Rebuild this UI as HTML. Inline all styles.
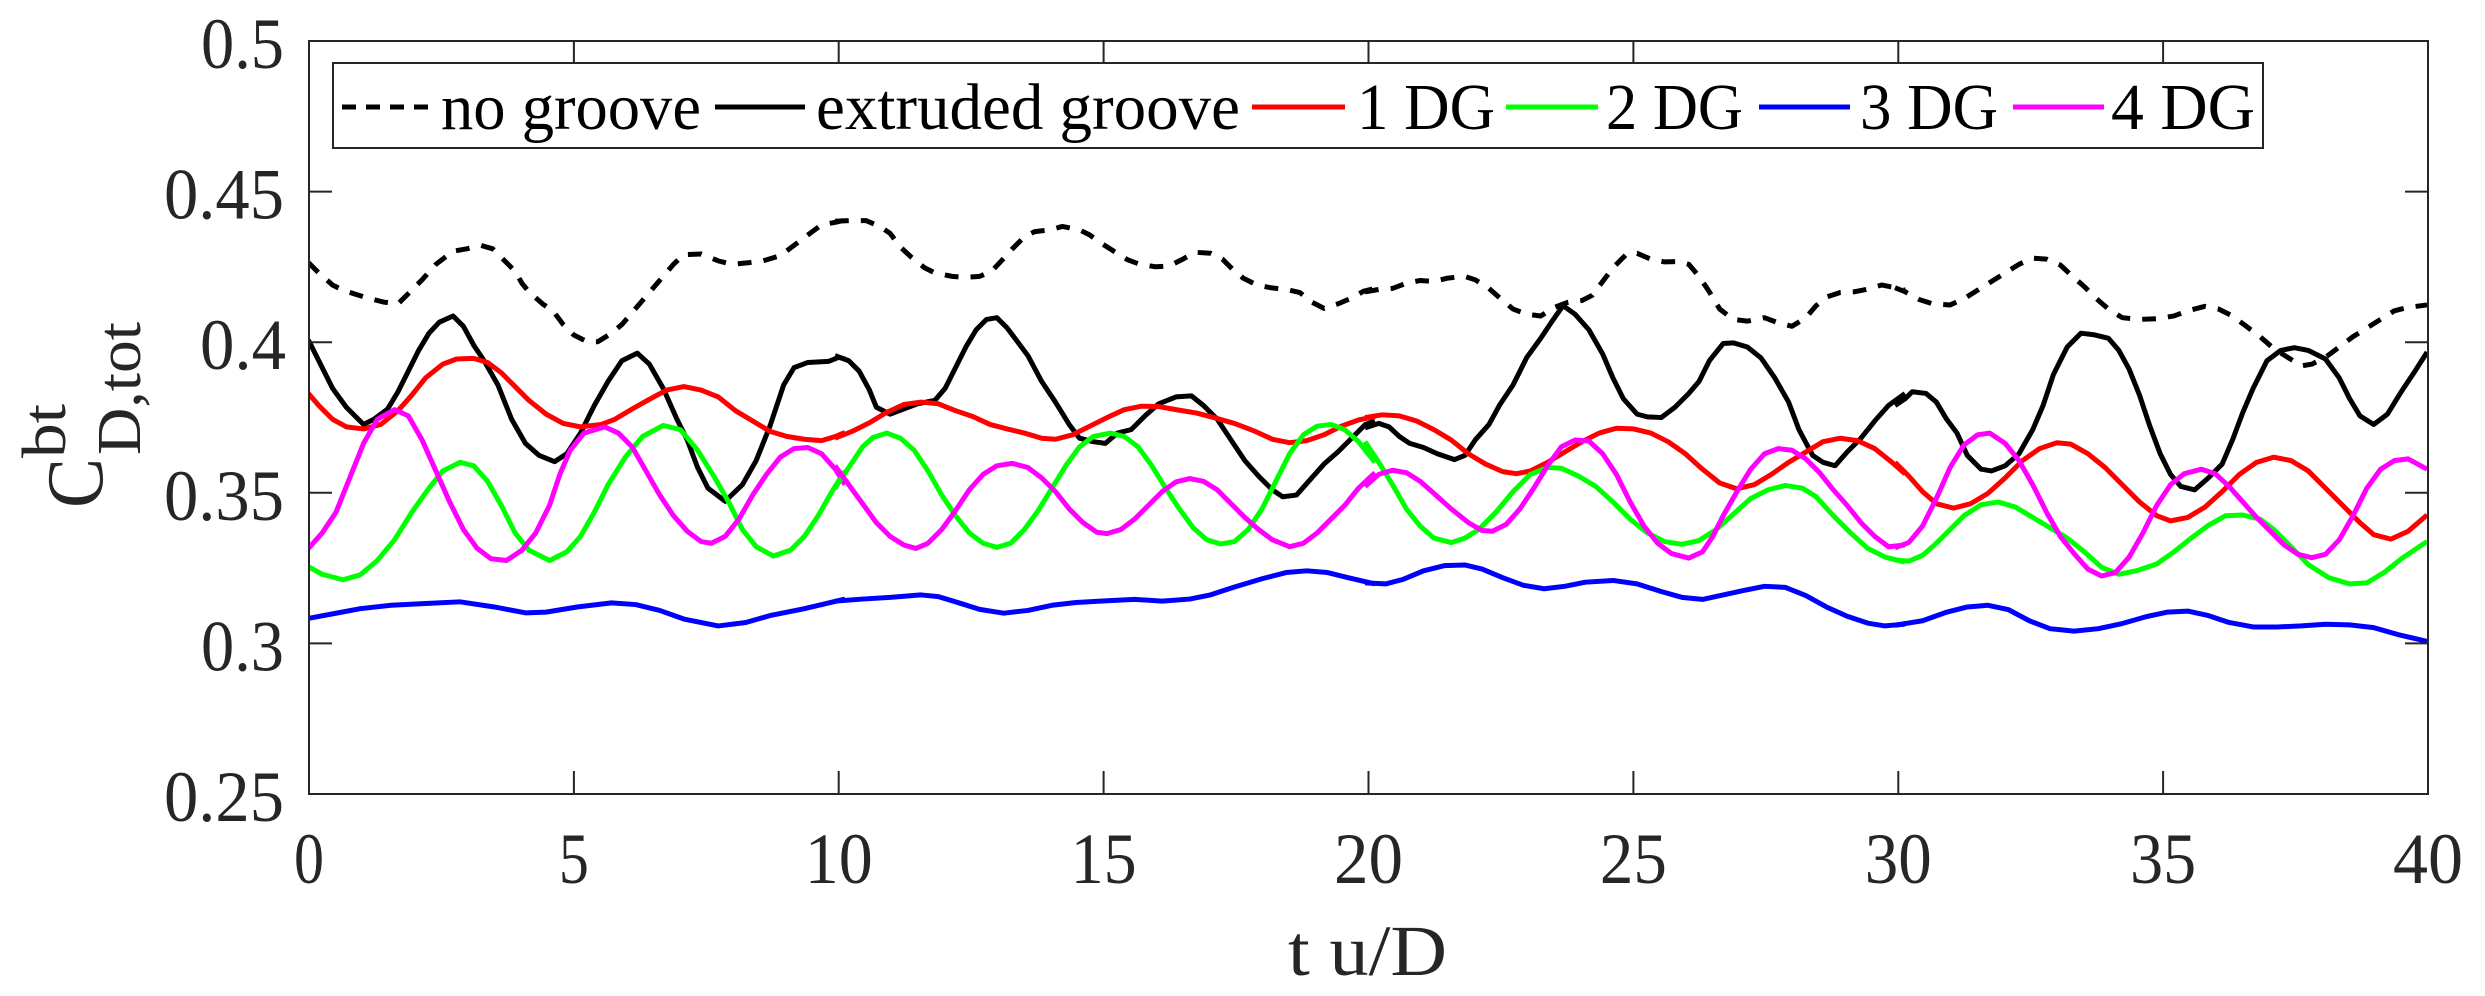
<!DOCTYPE html>
<html><head><meta charset="utf-8"><style>
html,body{margin:0;padding:0;background:#fff;}
svg{display:block;}
svg text{font-family:"Liberation Serif","Times New Roman",Times,serif;fill:#262626;}
</style></head><body>
<svg width="2485" height="996" viewBox="0 0 2485 996" xmlns="http://www.w3.org/2000/svg" font-family="Liberation Serif, Times New Roman, Times, serif">
<defs><clipPath id="pc"><rect x="309" y="41" width="2119" height="753"/></clipPath></defs>
<rect width="2485" height="996" fill="#fff"/>
<g clip-path="url(#pc)" fill="none" stroke-linejoin="round" stroke-linecap="butt">
<g transform="translate(305,130) scale(0.34439)" stroke-width="14.5">
<polyline stroke="#000" stroke-dasharray="40 35" points="10,385 40,415 80,450 110,465 150,478 190,490 230,500 270,505 305,470 340,435 380,390 430,352 470,345 510,335 545,345 580,380 610,410 630,445 650,470 690,505 720,525 750,565 780,595 820,615 850,615 890,590 920,565 950,530 980,495 1010,460 1040,425 1070,390 1100,362 1150,360 1200,380 1240,390 1290,385 1330,380 1380,365 1420,335 1460,305 1500,275 1540,268 1568,262"/>
<polyline stroke="#000" points="10,610 40,670 80,750 120,805 170,855 200,840 240,810 270,760 300,700 330,640 360,590 390,558 430,540 460,570 490,625 520,670 560,740 600,840 640,910 680,945 725,963 760,940 800,880 840,800 880,730 920,670 965,648 1000,680 1040,750 1080,840 1110,900 1140,980 1170,1040 1220,1078 1270,1030 1310,960 1350,860 1390,740 1420,690 1460,675 1520,672 1550,660 1568,665"/>
<polyline stroke="#ff0000" points="10,765 40,800 80,840 120,862 170,868 220,855 270,815 310,770 350,720 400,680 440,665 490,663 530,675 570,705 610,745 650,785 700,825 750,852 800,862 860,855 900,840 950,810 1000,782 1050,755 1100,745 1150,755 1200,775 1250,815 1300,845 1350,875 1400,890 1450,898 1500,902 1540,890 1568,878"/>
<polyline stroke="#00ff00" points="10,1268 50,1290 110,1306 160,1292 210,1250 260,1190 310,1110 360,1040 400,990 450,965 490,975 530,1020 570,1090 610,1170 650,1220 710,1250 760,1225 800,1180 840,1110 880,1030 930,950 980,890 1040,858 1090,870 1140,930 1190,1010 1230,1080 1270,1160 1310,1210 1360,1237 1410,1220 1450,1180 1490,1120 1530,1050 1568,990"/>
<polyline stroke="#0000ff" points="10,1418 80,1405 160,1390 250,1380 350,1375 450,1370 550,1385 640,1402 700,1400 790,1385 890,1373 960,1378 1030,1395 1100,1420 1200,1440 1280,1430 1350,1410 1450,1390 1568,1362"/>
<polyline stroke="#ff00ff" points="10,1215 50,1170 90,1110 130,1010 170,910 210,840 260,812 300,830 340,900 380,990 420,1080 460,1160 500,1215 540,1245 585,1250 630,1220 670,1170 710,1090 740,1000 770,930 810,880 870,862 910,880 950,920 990,990 1030,1060 1070,1120 1110,1165 1150,1195 1180,1200 1220,1180 1260,1130 1300,1060 1340,1000 1380,950 1420,925 1460,922 1500,940 1540,985 1568,1030"/>
</g>
<g transform="translate(835,130) scale(0.34439)" stroke-width="14.5">
<polyline stroke="#000" stroke-dasharray="40 35" points="0,265 40,263 90,263 130,280 160,300 190,340 220,368 260,400 290,415 340,425 380,428 420,425 455,410 485,378 515,345 550,310 580,295 625,290 660,280 710,290 740,305 775,330 810,352 850,377 885,390 930,397 970,395 1010,375 1045,355 1090,358 1125,375 1155,405 1185,430 1225,450 1265,458 1310,463 1350,472 1385,500 1420,518 1460,505 1500,488 1535,468 1568,460"/>
<polyline stroke="#000" points="0,655 40,670 70,700 100,755 120,805 160,825 200,810 240,795 290,785 320,750 350,690 380,630 410,580 440,550 470,545 500,575 530,615 560,655 600,730 640,790 680,855 710,895 750,905 785,910 820,880 860,870 900,830 940,795 990,775 1035,772 1070,800 1110,840 1150,900 1190,960 1230,1005 1270,1045 1300,1065 1340,1060 1380,1015 1420,970 1460,935 1500,895 1540,855 1568,845"/>
<polyline stroke="#ff0000" points="0,895 50,875 100,850 150,820 200,797 250,790 300,795 350,815 400,832 450,855 500,868 550,880 600,895 640,898 690,885 740,860 790,835 840,812 890,802 940,803 990,812 1050,822 1100,835 1160,852 1220,875 1270,898 1320,908 1370,902 1420,885 1470,860 1520,842 1568,832"/>
<polyline stroke="#00ff00" points="0,1040 40,980 80,920 110,893 150,880 190,895 230,930 270,990 310,1060 350,1120 390,1170 430,1200 470,1212 510,1200 550,1160 590,1105 630,1040 670,975 710,920 750,890 800,880 840,890 880,920 920,975 960,1040 1000,1100 1040,1155 1080,1190 1120,1202 1160,1195 1200,1160 1240,1100 1280,1020 1320,940 1360,885 1400,860 1440,855 1480,870 1520,905 1568,965"/>
<polyline stroke="#0000ff" points="0,1368 80,1362 160,1357 250,1350 300,1355 350,1370 420,1392 490,1403 560,1395 630,1380 700,1372 790,1367 870,1363 950,1368 1030,1362 1090,1350 1160,1327 1240,1303 1310,1285 1370,1280 1430,1285 1490,1300 1568,1318"/>
<polyline stroke="#ff00ff" points="0,975 40,1030 80,1085 120,1140 160,1180 200,1205 235,1215 270,1200 310,1160 350,1105 390,1045 430,1000 470,975 515,968 560,980 600,1010 640,1050 680,1100 720,1140 760,1168 790,1172 830,1160 870,1130 910,1090 950,1050 990,1022 1030,1012 1070,1020 1110,1045 1150,1085 1190,1125 1230,1160 1270,1190 1320,1210 1360,1200 1400,1170 1440,1130 1480,1090 1520,1040 1568,995"/>
</g>
<g transform="translate(1365,130) scale(0.34439)" stroke-width="14.5">
<polyline stroke="#000" stroke-dasharray="40 35" points="0,470 40,463 80,460 120,445 160,437 200,440 240,430 290,425 320,435 360,460 400,495 430,520 470,535 510,540 550,515 590,500 630,495 660,480 690,440 720,400 760,360 790,358 830,375 870,383 910,382 940,390 970,425 1000,470 1030,520 1070,550 1110,555 1160,545 1200,560 1240,570 1280,545 1310,510 1340,485 1380,472 1420,470 1460,462 1500,450 1540,458 1568,465"/>
<polyline stroke="#000" points="0,865 40,852 70,862 100,890 130,910 170,922 210,940 260,957 290,945 320,900 360,855 390,800 430,740 470,660 510,605 540,560 575,510 610,535 650,580 690,650 720,720 750,780 790,825 820,833 860,835 900,805 940,765 970,730 1000,670 1040,620 1070,618 1110,630 1150,662 1190,720 1230,790 1260,870 1300,945 1330,965 1365,975 1400,935 1440,895 1480,845 1520,800 1568,765"/>
<polyline stroke="#ff0000" points="0,835 50,827 100,830 150,845 200,870 250,900 300,940 350,970 400,992 440,998 480,990 530,965 580,935 630,905 680,880 730,866 780,868 830,880 880,905 930,940 980,985 1030,1025 1080,1042 1130,1030 1180,1000 1230,965 1280,935 1330,905 1380,895 1430,902 1480,925 1530,965 1568,998"/>
<polyline stroke="#00ff00" points="0,905 40,965 80,1030 120,1100 160,1150 200,1185 250,1198 290,1185 330,1160 380,1110 430,1050 480,1000 530,980 570,982 620,1005 670,1035 720,1080 770,1130 820,1170 870,1195 920,1203 970,1192 1020,1160 1070,1115 1120,1070 1170,1045 1220,1032 1270,1040 1310,1065 1360,1120 1410,1170 1460,1215 1510,1240 1568,1255"/>
<polyline stroke="#0000ff" points="0,1315 60,1318 110,1305 170,1280 230,1265 290,1263 340,1275 400,1300 460,1322 520,1332 580,1325 640,1313 720,1308 790,1318 860,1340 920,1357 980,1363 1040,1350 1100,1337 1160,1325 1220,1328 1280,1352 1340,1385 1400,1412 1460,1432 1510,1440 1568,1435"/>
<polyline stroke="#ff00ff" points="0,1035 40,1000 80,988 120,995 160,1020 200,1055 250,1100 300,1140 340,1163 370,1165 410,1145 450,1100 490,1040 530,975 570,920 610,900 650,903 690,940 730,1000 770,1080 810,1150 850,1200 890,1230 940,1243 980,1225 1010,1180 1040,1120 1080,1050 1120,985 1160,940 1200,925 1240,930 1280,955 1320,995 1360,1045 1400,1090 1440,1140 1480,1180 1520,1210 1568,1205"/>
</g>
<g transform="translate(1895,130) scale(0.34439)" stroke-width="14.5">
<polyline stroke="#000" stroke-dasharray="40 35" points="0,458 30,470 70,492 110,505 160,508 200,490 240,465 280,440 320,415 360,390 400,372 440,375 480,392 510,420 550,455 585,490 620,520 660,545 710,550 760,548 810,540 850,525 900,512 940,520 980,540 1020,570 1060,600 1100,635 1140,660 1180,685 1210,680 1250,660 1290,630 1330,600 1370,575 1410,550 1450,525 1490,515 1545,508"/>
<polyline stroke="#000" points="0,800 30,780 50,760 90,765 120,790 150,840 180,880 210,945 250,985 280,990 320,975 360,940 400,870 430,800 460,710 500,630 540,590 580,595 620,605 650,640 680,695 710,770 740,860 770,940 800,1000 830,1035 870,1045 910,1010 950,970 980,900 1010,820 1040,750 1080,670 1120,640 1160,632 1200,640 1250,665 1290,720 1320,780 1350,830 1390,855 1430,825 1470,760 1510,700 1545,645"/>
<polyline stroke="#ff0000" points="0,965 40,1005 80,1050 120,1085 170,1098 220,1085 270,1055 320,1010 370,960 420,925 470,908 510,912 560,940 610,980 660,1030 710,1080 760,1120 800,1135 850,1125 900,1095 950,1050 1000,1000 1050,965 1100,950 1150,960 1200,990 1250,1040 1300,1090 1350,1140 1390,1175 1440,1188 1490,1165 1545,1118"/>
<polyline stroke="#00ff00" points="0,1248 40,1252 80,1235 120,1200 160,1160 200,1120 250,1088 300,1080 350,1095 400,1125 450,1155 500,1185 550,1225 600,1270 650,1290 700,1280 760,1260 810,1225 860,1185 910,1148 960,1120 1010,1118 1060,1130 1100,1160 1150,1210 1200,1262 1260,1300 1320,1318 1370,1315 1420,1285 1470,1245 1545,1195"/>
<polyline stroke="#0000ff" points="0,1438 80,1425 150,1400 210,1385 270,1380 330,1393 390,1425 450,1448 520,1455 590,1448 660,1433 730,1413 790,1400 850,1397 910,1410 970,1430 1040,1443 1110,1443 1180,1440 1250,1435 1320,1437 1390,1445 1460,1465 1545,1485"/>
<polyline stroke="#ff00ff" points="0,1213 40,1198 80,1150 120,1070 160,980 200,915 240,885 275,880 320,910 360,960 400,1030 440,1110 480,1180 520,1230 560,1275 600,1295 640,1285 680,1240 720,1170 760,1090 800,1030 840,998 890,985 930,998 970,1035 1010,1080 1050,1125 1090,1165 1130,1205 1170,1232 1210,1242 1250,1232 1290,1190 1330,1120 1370,1040 1410,985 1450,960 1490,955 1545,985"/>
</g>
</g>
<g stroke="#262626" stroke-width="2" fill="none">
<rect x="309" y="41" width="2119" height="753"/>
<path d="M309,191.6h23 M309,342.2h23 M309,492.8h23 M309,643.4h23 M2428,191.6h-23 M2428,342.2h-23 M2428,492.8h-23 M2428,643.4h-23"/>
<path d="M573.9,794v-23 M838.7,794v-23 M1103.6,794v-23 M1368.5,794v-23 M1633.4,794v-23 M1898.3,794v-23 M2163.1,794v-23 M573.9,41v23 M838.7,41v23 M1103.6,41v23 M1368.5,41v23 M1633.4,41v23 M1898.3,41v23 M2163.1,41v23"/>
</g>
<g font-size="72" text-anchor="end" lengthAdjust="spacingAndGlyphs">
<text x="284" y="68" textLength="83" lengthAdjust="spacingAndGlyphs">0.5</text>
<text x="284" y="218.6" textLength="120" lengthAdjust="spacingAndGlyphs">0.45</text>
<text x="286" y="369.2" textLength="86" lengthAdjust="spacingAndGlyphs">0.4</text>
<text x="284" y="519.8" textLength="120" lengthAdjust="spacingAndGlyphs">0.35</text>
<text x="284" y="670.4" textLength="83" lengthAdjust="spacingAndGlyphs">0.3</text>
<text x="284" y="821" textLength="120" lengthAdjust="spacingAndGlyphs">0.25</text>
</g>
<g font-size="72" text-anchor="middle">
<text x="309" y="883" textLength="30" lengthAdjust="spacingAndGlyphs">0</text>
<text x="573.9" y="883" textLength="30" lengthAdjust="spacingAndGlyphs">5</text>
<text x="838.7" y="883" textLength="68" lengthAdjust="spacingAndGlyphs">10</text>
<text x="1103.6" y="883" textLength="66" lengthAdjust="spacingAndGlyphs">15</text>
<text x="1368.5" y="883" textLength="69" lengthAdjust="spacingAndGlyphs">20</text>
<text x="1633.4" y="883" textLength="67" lengthAdjust="spacingAndGlyphs">25</text>
<text x="1898.3" y="883" textLength="67" lengthAdjust="spacingAndGlyphs">30</text>
<text x="2163.1" y="883" textLength="66" lengthAdjust="spacingAndGlyphs">35</text>
<text x="2428" y="883" textLength="70" lengthAdjust="spacingAndGlyphs">40</text>
</g>
<text x="1288" y="975" font-size="72" textLength="159" lengthAdjust="spacingAndGlyphs">t u/D</text>
<text transform="translate(102,508) rotate(-90)" font-size="80" textLength="50" lengthAdjust="spacingAndGlyphs">C</text>
<text transform="translate(65,458) rotate(-90)" font-size="62" textLength="54" lengthAdjust="spacingAndGlyphs">bt</text>
<text transform="translate(140,455) rotate(-90)" font-size="62" textLength="133" lengthAdjust="spacingAndGlyphs">D,tot</text>
<rect x="333" y="63" width="1930" height="85" fill="#fff" stroke="#262626" stroke-width="2"/>
<g stroke-width="5">
<line x1="342" y1="107" x2="433" y2="107" stroke="#000" stroke-dasharray="14 10"/>
<line x1="715" y1="107" x2="805" y2="107" stroke="#000"/>
<line x1="1252" y1="107" x2="1345" y2="107" stroke="#ff0000"/>
<line x1="1506" y1="107" x2="1598" y2="107" stroke="#00ff00"/>
<line x1="1759" y1="107" x2="1850" y2="107" stroke="#0000ff"/>
<line x1="2013" y1="107" x2="2104" y2="107" stroke="#ff00ff"/>
</g>
<g font-size="66">
<text x="441" y="129" textLength="260" lengthAdjust="spacingAndGlyphs" style="fill:#000">no groove</text>
<text x="816" y="129" textLength="424" lengthAdjust="spacingAndGlyphs" style="fill:#000">extruded groove</text>
<text x="1357" y="129" textLength="138" lengthAdjust="spacingAndGlyphs" style="fill:#000">1 DG</text>
<text x="1606" y="129" textLength="137" lengthAdjust="spacingAndGlyphs" style="fill:#000">2 DG</text>
<text x="1860" y="129" textLength="138" lengthAdjust="spacingAndGlyphs" style="fill:#000">3 DG</text>
<text x="2111" y="129" textLength="144" lengthAdjust="spacingAndGlyphs" style="fill:#000">4 DG</text>
</g>
</svg>
</body></html>
